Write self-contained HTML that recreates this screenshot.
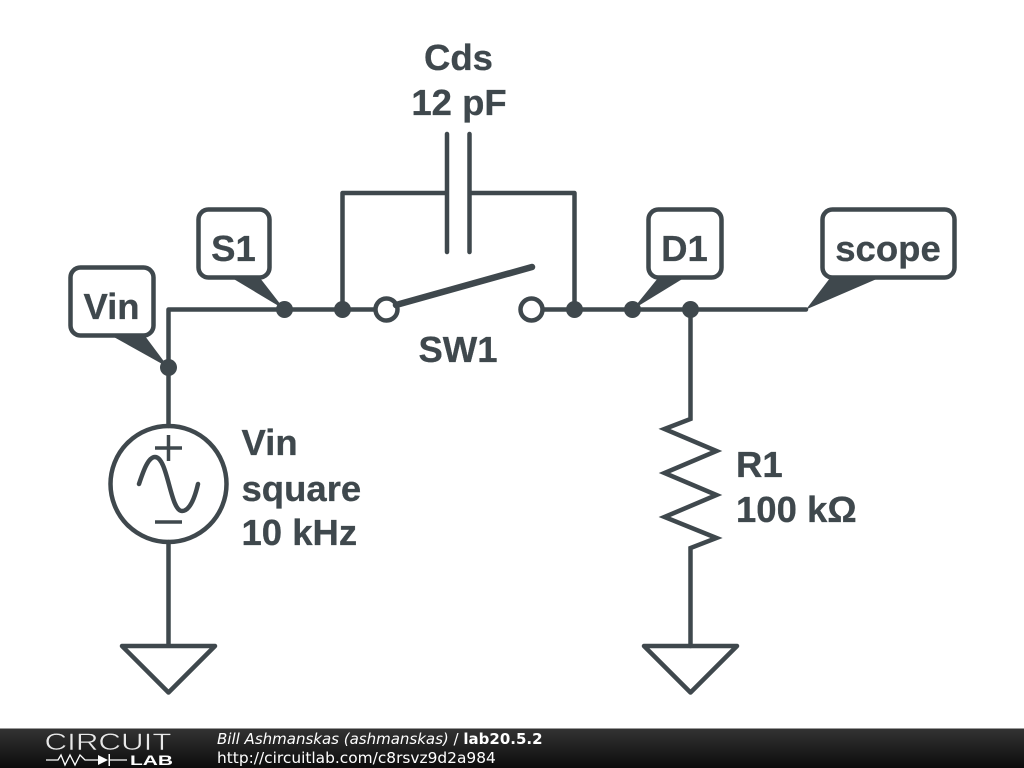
<!DOCTYPE html>
<html><head><meta charset="utf-8"><style>
html,body{margin:0;padding:0;background:#fff;width:1024px;height:768px;overflow:hidden}
svg{display:block}
.t{font-family:"Liberation Sans",sans-serif;font-weight:700;font-size:36.5px;fill:#3f484d;stroke:#3f484d;stroke-width:.3px}
</style></head><body>
<svg width="1024" height="768" viewBox="0 0 1024 768" xmlns="http://www.w3.org/2000/svg">
<defs><linearGradient id="g" x1="0" y1="0" x2="0" y2="1"><stop offset="0" stop-color="#333"/><stop offset="1" stop-color="#0c0c0c"/></linearGradient></defs>
<rect width="1024" height="768" fill="#fff"/>
<g fill="none" stroke="#3f484d" stroke-width="4.500" stroke-linejoin="round" stroke-linecap="round">
<path d="M168.500 426V309.500H374M342.500 309.500V193H446M470 193H574.500V309.500M543 309.500H806"/>
<path d="M168.500 542V646M122 646H215L168.500 692.500Z"/>
<path d="M690.500 309.500V419L664.500 429L716.500 451L664.500 473L716.500 495L664.500 517L716.500 538L690.500 548V646" stroke-linejoin="miter"/>
<path d="M644 646H737L690.500 692.500Z"/>
<path d="M447 134V252M469.500 134V252"/>
<circle cx="168.500" cy="484" r="58"/>
<path d="M155 448H182M168.500 435V461M155 522H182" stroke-linecap="butt" stroke-width="3.500"/>
<path d="M139 484C143 472 148 457 155 457C168 457 170 511 182 511C190 511 195 497 198 484"/>
<circle cx="386.500" cy="309.500" r="11"/>
<circle cx="531.500" cy="309.500" r="11"/>
</g>
<path d="M396 305L532 267" fill="none" stroke="#3f484d" stroke-width="6.500" stroke-linecap="round"/>
<g fill="#fff" stroke="#3f484d" stroke-width="4.500">
<rect x="70.500" y="267.500" width="83" height="68" rx="10"/>
<rect x="198.500" y="209.500" width="71" height="68" rx="10"/>
<rect x="648.500" y="209.500" width="73" height="68" rx="10"/>
<rect x="822.500" y="209.500" width="132" height="68" rx="10"/>
</g>
<g fill="#3f484d">
<circle cx="168.500" cy="367.500" r="8.500"/><circle cx="284.500" cy="309.500" r="8.500"/><circle cx="342.500" cy="309.500" r="8.500"/><circle cx="574.500" cy="309.500" r="8.500"/><circle cx="632.500" cy="309.500" r="8.500"/><circle cx="690.500" cy="309.500" r="8.500"/>
<path d="M112 336L168.500 367.500L145 336Z"/>
<path d="M232 278L284.500 309.500L260 278Z"/>
<path d="M658 278L632.500 309.500L684 278Z"/>
<path d="M830 278L806 309.500L879 278Z"/>
</g>
<g>
<text x="111.500" y="319" text-anchor="middle" class="t">Vin</text>
<text x="233.500" y="261" text-anchor="middle" class="t">S1</text>
<text x="684.500" y="261" text-anchor="middle" class="t">D1</text>
<text x="888" y="261" text-anchor="middle" class="t">scope</text>
<text x="458.500" y="70" text-anchor="middle" class="t">Cds</text>
<text x="459" y="115" text-anchor="middle" class="t">12 pF</text>
<text x="458" y="362" text-anchor="middle" class="t">SW1</text>
<text x="241.500" y="455" class="t">Vin</text>
<text x="241.500" y="501" class="t">square</text>
<text x="241.500" y="545" class="t">10 kHz</text>
<text x="736" y="477" class="t">R1</text>
<text x="736" y="522" class="t">100 kΩ</text>
</g>
<rect y="729" width="1024" height="39" fill="url(#g)"/>
<rect y="728" width="1024" height="1" fill="#999"/>
<text x="44.500" y="750" font-family="Liberation Sans,sans-serif" font-size="24" fill="#e8e8e8" stroke="#222" stroke-width=".5" textLength="127" lengthAdjust="spacingAndGlyphs">CIRCUIT</text>
<path d="M46 760H58L61 755L65 765L70 755L75 765L80 755L85 760H98M110 760H127" stroke="#fff" stroke-width="1.300" fill="none"/>
<path d="M98 755L108 760L98 765Z M108.500 754H110V766H108.500Z" fill="#fff"/>
<text x="130" y="765" font-family="Liberation Sans,sans-serif" font-size="14" font-weight="700" fill="#fff" textLength="43" lengthAdjust="spacingAndGlyphs">LAB</text>
<text x="217" y="744" font-family="DejaVu Sans,sans-serif" font-size="15" fill="#fff"><tspan font-style="italic">Bill Ashmanskas (ashmanskas)</tspan> / <tspan font-weight="700">lab20.5.2</tspan></text>
<text x="217" y="763" font-family="DejaVu Sans,sans-serif" font-size="15.400" fill="#fff">http://circuitlab.com/c8rsvz9d2a984</text>
</svg>
</body></html>
